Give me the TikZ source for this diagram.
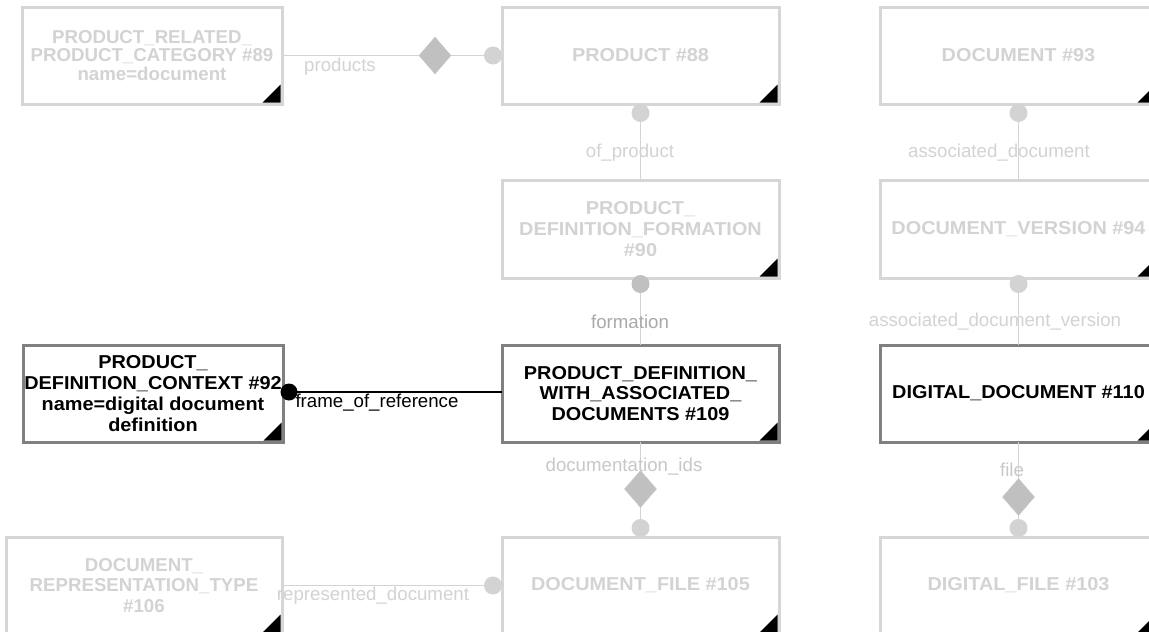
\documentclass[tikz,border=0pt]{standalone}
\usepackage{fontspec}
\setmainfont{Liberation Sans}
\newfontfamily\widefont[FakeStretch=1.065]{Liberation Sans}
\usetikzlibrary{shapes.geometric}
\definecolor{fadeborder}{HTML}{D6D6D6}
\definecolor{fadetext}{HTML}{D3D3D3}
\definecolor{lblgray}{HTML}{C8C8C8}
\definecolor{linegray}{HTML}{D3D3D3}
\definecolor{circgray}{HTML}{D3D3D3}
\definecolor{diagray}{HTML}{C0C0C0}
\definecolor{activeborder}{HTML}{808080}
\definecolor{darkcirc}{HTML}{C0C0C0}
\definecolor{darklbl}{HTML}{A9A9A9}
\newcommand{\boxcorner}[1]{\fill[black] ([shift={(-1.5,-1.5)}]#1.south east) -- ++(-18,0) -- ++(18,-18) -- cycle;}
\begin{document}
\begin{tikzpicture}[x=1pt,y=-1pt,
  entity/.style={draw, line width=3pt, minimum height=97pt, minimum width=277pt, inner sep=0pt, outer sep=0pt, align=center, fill=white,
    font=\widefont\bfseries\fontsize{18.67}{20.8}\selectfont},
  plainfont/.style={font=\bfseries\fontsize{18.67}{20.8}\selectfont},
  faded/.style={entity, draw=fadeborder, text=fadetext},
  active/.style={entity, draw=activeborder, text=black},
  conn/.style={draw=linegray, line width=1.5pt},
  lbl/.style={inner sep=0pt, font=\fontsize{18.67}{19}\selectfont, text=lblgray},
  ring/.style={circle, minimum size=18pt, inner sep=0pt, fill=circgray},
  dia/.style={diamond, minimum width=32pt, minimum height=37pt, inner sep=0pt, fill=diagray, draw=lblgray, line width=0.5pt}
]
\useasboundingbox (0,0) rectangle (1149,632);
\clip (0,0) rectangle (1149,632);
\fill[white] (0,0) rectangle (1149,632);

% entities
\node[faded, minimum width=260pt, font=\bfseries\fontsize{18.67}{18.6}\selectfont] (n89) at (152,55.5) {PRODUCT\_RELATED\_\\PRODUCT\_CATEGORY \#89\\name=document};
\node[faded] (n88) at (640.5,55.5) {PRODUCT \#88};
\node[faded] (n93) at (1018.5,55.5) {DOCUMENT \#93};
\node[faded, minimum height=98pt] (n90) at (640.5,229) {PRODUCT\_\\DEFINITION\_FORMATION\\\#90};
\node[faded, minimum height=98pt] (n94) at (1018.5,229) {DOCUMENT\_VERSION \#94};
\node[active, minimum width=260pt] (n92) at (153,393.5) {PRODUCT\_\\DEFINITION\_CONTEXT \#92\\name=digital document\\definition};
\node[active] (n109) at (640.5,393.5) {PRODUCT\_DEFINITION\_\\WITH\_ASSOCIATED\_\\DOCUMENTS \#109};
\node[active] (n110) at (1018.5,393.5) {DIGITAL\_DOCUMENT \#110};
\node[faded, minimum width=276pt, plainfont] (n106) at (144,585.5) {DOCUMENT\_\\REPRESENTATION\_TYPE\\\#106};
\node[faded] (n105) at (640.5,585.5) {DOCUMENT\_FILE \#105};
\node[faded] (n103) at (1018.5,585.5) {DIGITAL\_FILE \#103};

\foreach \n in {n89,n88,n93,n90,n94,n92,n109,n110,n106,n105,n103} {\boxcorner{\n}}

% lines
\draw[conn] (n89.east) -- (n88.west);
\draw[conn] (n88.south) -- (n90.north);
\draw[conn] (n93.south) -- (n94.north);
\draw[conn] (n90.south) -- (n109.north);
\draw[conn] (n94.south) -- (n110.north);
\draw[conn] (n109.south) -- (n105.north);
\draw[conn] (n110.south) -- (n103.north);
\draw[conn] (n106.east) -- (n105.west);

% ends
\node[dia] (d1) at (435,55.5) {};
\node[ring] (c1) at (493,55.5) {};
\node[ring] (c2) at (640.5,113) {};
\node[ring] (c3) at (1018.5,113) {};
\node[ring, fill=darkcirc] (c4) at (640.5,284) {};
\node[ring] (c5) at (1018.5,284) {};
\node[dia] (d2) at (640.5,489) {};
\node[ring] (c6) at (640.5,528) {};
\node[dia] (d3) at (1018.5,497) {};
\node[ring] (c7) at (1018.5,528) {};
\node[ring] (c8) at (493,585.5) {};

% frame_of_reference
\node[circle, fill=black, minimum size=17pt, inner sep=0pt] (c9) at (289,392) {};
\draw[black, line width=1.5pt] (c9.center) -- (n109.west |- c9.center);

% labels
\node[lbl, text=fadetext] (l1) at (340,67) {products};
\node[lbl, text=fadetext] (l2) at (630,153) {of\_product};
\node[lbl, text=fadetext] (l3) at (999,153) {associated\_document};
\node[lbl, text=darklbl] (l4) at (630,322) {formation};
\node[lbl, text=fadetext] (l5) at (995,322) {associated\_document\_version};
\node[lbl, text=black] (l6) at (377,403) {frame\_of\_reference};
\node[lbl] (l7) at (624,467) {documentation\_ids};
\node[lbl] (l8) at (1012,470) {file};
\node[lbl, text=fadetext] (l9) at (373,596) {represented\_document};
\end{tikzpicture}
\end{document}
